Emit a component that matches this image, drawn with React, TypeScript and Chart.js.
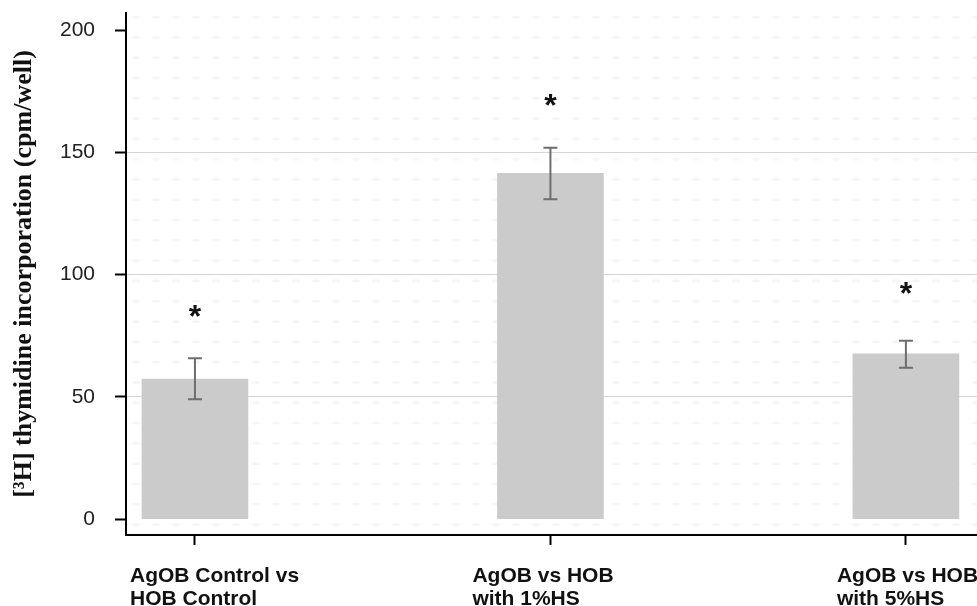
import React, { useEffect, useRef } from "react";
import { Chart, registerables } from "chart.js";

Chart.register(...registerables);

const categoryLabels: string[][] = [
  ["AgOB Control vs", "HOB Control"],
  ["AgOB vs HOB", "with 1%HS"],
  ["AgOB vs HOB", "with 5%HS"],
];
const categoryIndex = [0, 1, 2];
const meanValues = [57.3, 141.4, 67.6];
const errorLow = [49.0, 130.8, 61.9];
const errorHigh = [65.8, 151.9, 72.9];
const starValues = [85.9, 172.3, 95.3];
const yTickValues = [0, 50, 100, 150, 200];
const gridValues = [50, 100, 150];
const yTitle = "[³H] thymidine incorporation (cpm/well)";

const STAR_SIZE = 32;
const LABEL_SHIFT = [-65, -78, -69];

const backgroundPattern = {
  id: "backgroundPattern",
  beforeDraw(chart: any) {
    const { ctx, chartArea } = chart;
    ctx.save();
    ctx.fillStyle = "rgba(0,0,0,0.035)";
    for (let y = chartArea.top + 4; y < chartArea.bottom; y += 20.3) {
      for (let x = chartArea.left + 10; x < chartArea.right; x += 20) {
        ctx.beginPath();
        ctx.ellipse(x, y, 4, 1.6, 0, 0, Math.PI * 2);
        ctx.fill();
      }
    }
    ctx.restore();
  },
};

const errorAndStars = {
  id: "errorAndStars",
  afterDatasetsDraw(chart: any) {
    const { ctx } = chart;
    const xs = chart.scales.x;
    const ys = chart.scales.y;
    ctx.save();
    ctx.strokeStyle = "#6e6e6e";
    ctx.lineWidth = 2;
    categoryIndex.forEach((c, i) => {
      const px = xs.getPixelForValue(c);
      const lo = ys.getPixelForValue(errorLow[i]);
      const hi = ys.getPixelForValue(errorHigh[i]);
      ctx.beginPath();
      ctx.moveTo(px, lo);
      ctx.lineTo(px, hi);
      ctx.moveTo(px - 7, lo);
      ctx.lineTo(px + 7, lo);
      ctx.moveTo(px - 7, hi);
      ctx.lineTo(px + 7, hi);
      ctx.stroke();
    });
    ctx.fillStyle = "#111";
    ctx.font = `bold ${STAR_SIZE}px 'Liberation Sans', Arial, sans-serif`;
    ctx.textAlign = "center";
    ctx.textBaseline = "alphabetic";
    categoryIndex.forEach((c, i) => {
      const px = xs.getPixelForValue(c);
      const py = ys.getPixelForValue(starValues[i]);
      ctx.fillText("*", px, py + STAR_SIZE * 0.57);
    });
    ctx.restore();
  },
  afterDraw(chart: any) {
    const { ctx } = chart;
    const xs = chart.scales.x;
    ctx.save();
    ctx.fillStyle = "#111";
    ctx.font = "bold 21px 'Liberation Sans', Arial, sans-serif";
    ctx.textAlign = "left";
    ctx.textBaseline = "alphabetic";
    categoryIndex.forEach((c, i) => {
      const px = xs.getPixelForValue(c);
      categoryLabels[i].forEach((line, j) => {
        ctx.fillText(line, px + LABEL_SHIFT[i], 582 + j * 23);
      });
    });
    ctx.restore();
  },
};

export default function App() {
  const canvasRef = useRef<HTMLCanvasElement | null>(null);

  useEffect(() => {
    if (!canvasRef.current) return;
    const chart = new Chart(canvasRef.current, {
      type: "bar",
      data: {
        datasets: [
          {
            data: categoryIndex.map((c, i) => ({ x: c, y: meanValues[i] })),
            backgroundColor: "#cbcbcb",
            borderWidth: 0,
            barThickness: 106,
          },
        ],
      },
      options: {
        animation: false,
        responsive: true,
        maintainAspectRatio: false,
        layout: { padding: { top: 13, left: 0, right: 0, bottom: 0 } },
        plugins: {
          legend: { display: false },
          tooltip: { enabled: false },
        },
        scales: {
          x: {
            type: "linear",
            offset: false,
            min: -0.194,
            max: 2.2,
            afterBuildTicks: (scale: any) => {
              scale.ticks = categoryIndex.map((v) => ({ value: v }));
            },
            afterFit: (scale: any) => {
              scale.height = 71;
              scale.paddingLeft = 0;
              scale.paddingRight = 0;
            },
            ticks: {
              callback: () => "",
              padding: 0,
            },
            grid: {
              display: true,
              offset: false,
              drawOnChartArea: false,
              drawTicks: true,
              tickLength: 10,
              tickColor: "#000",
              tickWidth: 2,
            },
            border: { display: true, color: "#000", width: 2 },
          },
          y: {
            min: -6.5,
            max: 207,
            afterBuildTicks: (scale: any) => {
              scale.ticks = yTickValues.map((v) => ({ value: v }));
            },
            afterFit: (scale: any) => {
              scale.width = 126;
              scale.paddingTop = 0;
              scale.paddingBottom = 0;
            },
            ticks: {
              padding: 20,
              color: "#222",
              font: { family: "'Liberation Sans', Arial, sans-serif", size: 21 },
            },
            grid: {
              display: true,
              drawTicks: true,
              tickLength: 11,
              tickColor: "#000",
              tickWidth: 2,
              lineWidth: 1,
              color: (ctx: any) =>
                ctx.tick && gridValues.includes(ctx.tick.value) ? "#d4d4d4" : "rgba(0,0,0,0)",
            },
            border: { display: true, color: "#000", width: 2 },
            title: {
              display: true,
              text: yTitle,
              color: "#111",
              padding: { top: 9, bottom: 0 },
              font: { family: "'Liberation Serif', 'Times New Roman', serif", size: 26, weight: "bold" },
            },
          },
        },
      },
      plugins: [backgroundPattern, errorAndStars],
    } as any);
    return () => chart.destroy();
  }, []);

  return (
    <div style={{ position: "fixed", left: 0, top: 0, width: 977, height: 606, background: "#fff" }}>
      <canvas ref={canvasRef} />
    </div>
  );
}
